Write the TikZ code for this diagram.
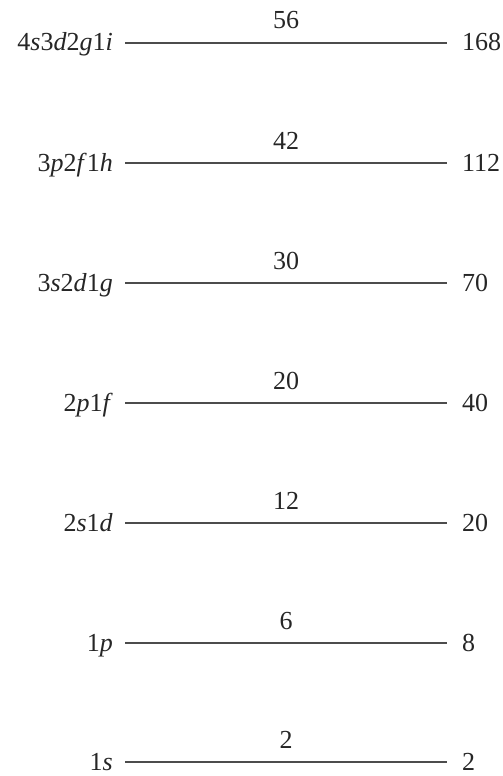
\documentclass[tikz,border=0pt]{standalone}
\usepackage{fontspec}
\setmainfont{Liberation Serif}
\begin{document}
\begin{tikzpicture}[x=1pt,y=-1pt,
  lab/.style={inner sep=0pt, font=\fontsize{26}{30}\selectfont, text=black!85},
  lvl/.style={line width=2pt, draw=black!70}]
\useasboundingbox (0,0) rectangle (503,776);
\foreach \y/\lt/\tn/\rn/\n in {
  43/{4\textit{s}3\textit{d}2\textit{g}1\textit{i}}/56/168/1,
  163/{3\textit{p}2\textit{f}1\textit{h}}/42/112/2,
  283/{3\textit{s}2\textit{d}1\textit{g}}/30/70/3,
  403/{2\textit{p}1\textit{f}}/20/40/4,
  523/{2\textit{s}1\textit{d}}/12/20/5,
  643/{1\textit{p}}/6/8/6,
  762/{1\textit{s}}/2/2/7}{
  \coordinate (a\n) at (125,\y);
  \coordinate (b\n) at (447,\y);
  \node[lab, anchor=base east] (L\n) at (113,\y+8) {\lt};
  \node[lab, anchor=base west] (R\n) at (462,\y+8) {\rn};
  \node[lab, anchor=base] (T\n) at (286,\y-14) {\tn};
  \draw[lvl] (a\n) -- (b\n);
}
\end{tikzpicture}
\end{document}
